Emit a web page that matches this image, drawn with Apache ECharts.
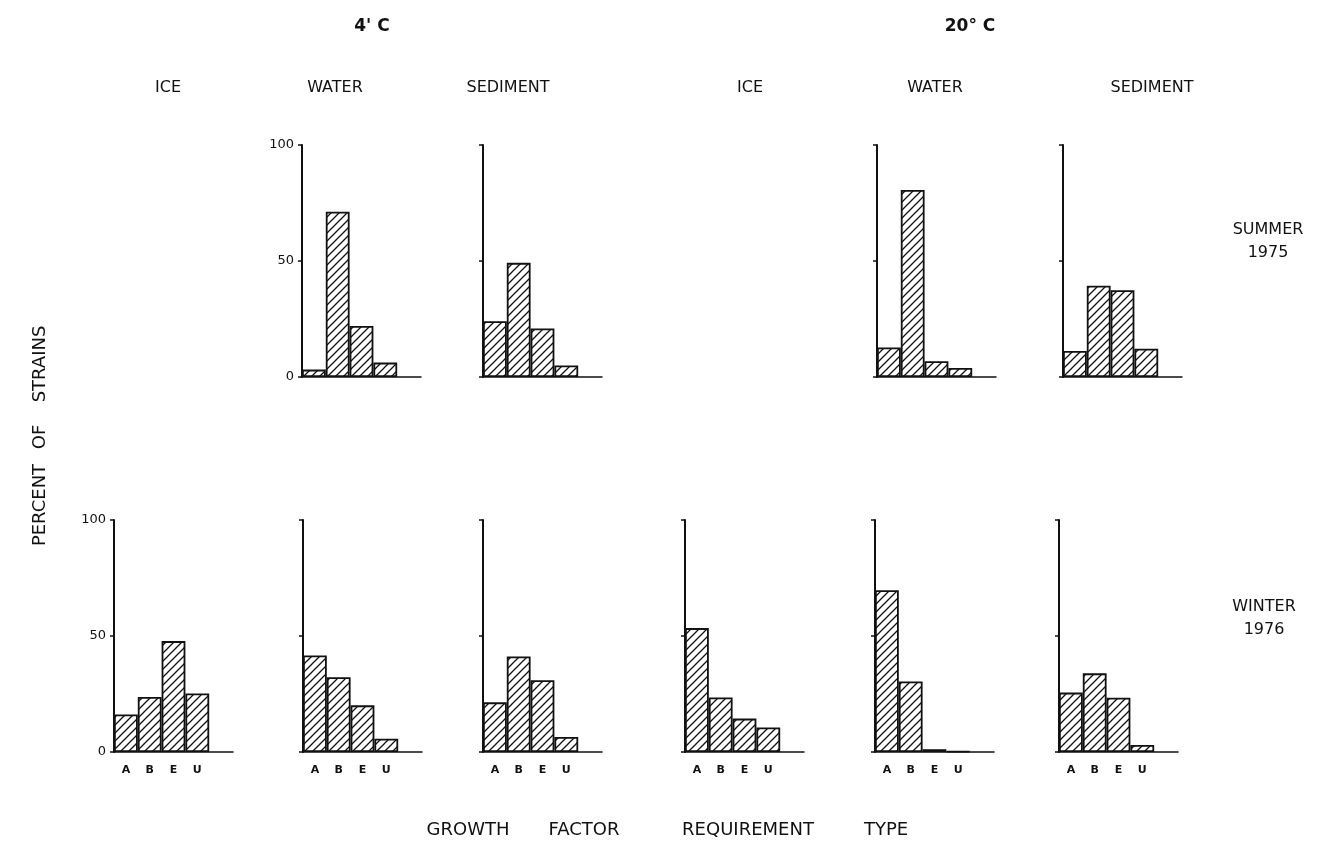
<!DOCTYPE html>
<html><head><meta charset="utf-8">
<script src="https://cdn.jsdelivr.net/npm/echarts@6/dist/echarts.min.js"></script>
<style>html,body{margin:0;padding:0;background:#fff}#c{width:1335px;height:848px}</style>
</head><body><div id="c"></div>
<script>
// ---- data ----
const categories = ['A', 'B', 'E', 'U', ''];
const yTickValues = [0, 50, 100];
const tempLabels = ["4' C", '20° C'];
const columnLabels = ['ICE', 'WATER', 'SEDIMENT', 'ICE', 'WATER', 'SEDIMENT'];
const rowLabels = ['SUMMER\n1975', 'WINTER\n1976'];
const yAxisTitleWords = ['PERCENT', 'OF', 'STRAINS'];
const xAxisTitleWords = ['GROWTH', 'FACTOR', 'REQUIREMENT', 'TYPE'];

const summer4Water = [3.2, 71.2, 22.0, 6.2];
const summer4Sediment = [24.0, 49.2, 20.9, 5.0];
const summer20Water = [12.7, 80.6, 6.8, 3.9];
const summer20Sediment = [11.2, 39.3, 37.4, 12.2];
const winter4Ice = [16.2, 23.7, 47.8, 25.2];
const winter4Water = [41.6, 32.2, 20.1, 5.7];
const winter4Sediment = [21.4, 41.2, 30.9, 6.5];
const winter20Ice = [53.4, 23.5, 14.4, 10.6];
const winter20Water = [69.7, 30.4, 1.2, 0.4];
const winter20Sediment = [25.6, 33.9, 23.4, 3.0];

// ---- layout ----
const panels = [
  {data: summer4Water, left: 302, top: 145, labelsY: true, labelsX: false},
  {data: summer4Sediment, left: 483, top: 145, labelsY: false, labelsX: false},
  {data: summer20Water, left: 877, top: 145, labelsY: false, labelsX: false},
  {data: summer20Sediment, left: 1063, top: 145, labelsY: false, labelsX: false},
  {data: winter4Ice, left: 114, top: 520, labelsY: true, labelsX: true},
  {data: winter4Water, left: 303, top: 520, labelsY: false, labelsX: true},
  {data: winter4Sediment, left: 483, top: 520, labelsY: false, labelsX: true},
  {data: winter20Ice, left: 685, top: 520, labelsY: false, labelsX: true},
  {data: winter20Water, left: 875, top: 520, labelsY: false, labelsX: true},
  {data: winter20Sediment, left: 1059, top: 520, labelsY: false, labelsX: true}
];

function hatch() {
  const s = 8, c = document.createElement('canvas');
  c.width = s; c.height = s;
  const g = c.getContext('2d');
  g.fillStyle = '#fff'; g.fillRect(0, 0, s, s);
  g.strokeStyle = '#111'; g.lineWidth = 1.3;
  g.beginPath();
  g.moveTo(-1, s + 1); g.lineTo(s + 1, -1);
  g.moveTo(-s / 4 - 1, s / 4 + 1); g.lineTo(s / 4 + 1, -s / 4 - 1);
  g.moveTo(3 * s / 4 - 1, 5 * s / 4 + 1); g.lineTo(5 * s / 4 + 1, 3 * s / 4 - 1);
  g.stroke();
  return c;
}
const pattern = {image: hatch(), repeat: 'repeat'};

const FONT = '"DejaVu Sans", "Liberation Sans", sans-serif';
const grids = [], xAxes = [], yAxes = [], series = [];
panels.forEach((p, i) => {
  grids.push({left: p.left, top: p.top, width: 119, height: 232, containLabel: false});
  xAxes.push({
    type: 'category', gridIndex: i, data: categories, boundaryGap: true,
    axisLine: {lineStyle: {color: '#111', width: 1.5}},
    axisTick: {show: false},
    axisLabel: {show: p.labelsX, color: '#111', fontFamily: FONT, fontWeight: 'bold', fontSize: 11, margin: 13, interval: 0}
  });
  yAxes.push({
    type: 'value', gridIndex: i, min: 0, max: 100, interval: 50,
    axisLine: {show: true, lineStyle: {color: '#111', width: 2}},
    axisTick: {show: true, length: 4, lineStyle: {color: '#111', width: 1.5}},
    splitLine: {show: false},
    axisLabel: {show: p.labelsY, color: '#111', fontFamily: FONT, fontSize: 13, margin: 8,
      formatter: v => yTickValues.includes(v) ? String(v) : ''}
  });
  series.push({
    type: 'bar', xAxisIndex: i, yAxisIndex: i, data: p.data,
    barCategoryGap: '0%', silent: true, animation: false,
    itemStyle: {color: pattern, borderColor: '#111', borderWidth: 1.8}
  });
});

const txt = (x, y, text, size, extra) => Object.assign({
  type: 'text', x, y, silent: true,
  style: Object.assign({text, fill: '#111', font: `${size}px ${FONT}`, textAlign: 'center', textVerticalAlign: 'middle'}, extra || {})
});
const rot = (el) => Object.assign(el, {rotation: Math.PI / 2});
const colCenters = [168, 335, 508, 750, 935, 1152];
const graphic = [
  txt(372, 27, tempLabels[0], 17, {font: `bold 17px ${FONT}`}),
  txt(970, 27, tempLabels[1], 17, {font: `bold 17px ${FONT}`}),
  ...columnLabels.map((t, i) => txt(colCenters[i], 88, t, 16)),
  txt(1268, 241, rowLabels[0], 16, {lineHeight: 23}),
  txt(1264, 618, rowLabels[1], 16, {lineHeight: 23}),
  rot(txt(40, 505, yAxisTitleWords[0], 18)),
  rot(txt(40, 437, yAxisTitleWords[1], 18)),
  rot(txt(40, 364, yAxisTitleWords[2], 18)),
  txt(468, 830, xAxisTitleWords[0], 18),
  txt(584, 830, xAxisTitleWords[1], 18),
  txt(748, 830, xAxisTitleWords[2], 18),
  txt(886, 830, xAxisTitleWords[3], 18)
];

const chart = echarts.init(document.getElementById('c'), null, {renderer: 'canvas'});
chart.setOption({
  backgroundColor: '#fff', animation: false,
  grid: grids, xAxis: xAxes, yAxis: yAxes, series, graphic
});
</script></body></html>
